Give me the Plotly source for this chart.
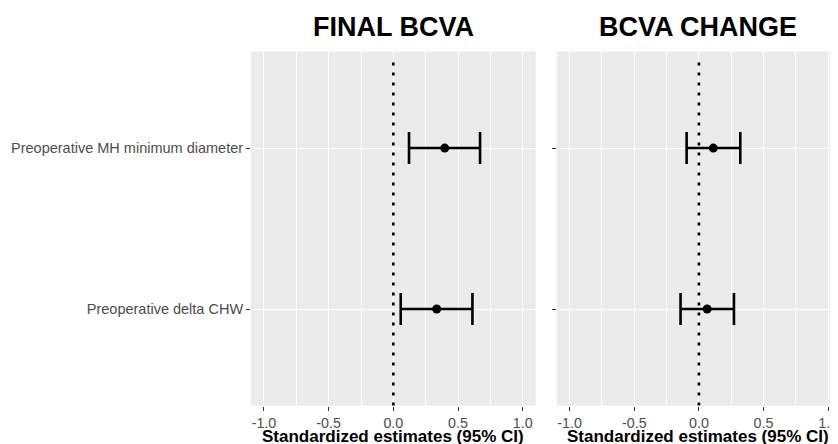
import plotly.graph_objects as go

# ---------------- data ----------------
predictors = ["Preoperative delta CHW", "Preoperative MH minimum diameter"]

final_est = [0.335, 0.397]
final_lo = [0.057, 0.121]
final_hi = [0.611, 0.670]

change_est = [0.064, 0.111]
change_lo = [-0.142, -0.095]
change_hi = [0.271, 0.320]

panel_titles = ["FINAL BCVA", "BCVA CHANGE"]
x_title = "Standardized estimates (95% CI)"
x_tickvals = [-1.0, -0.5, 0.0, 0.5, 1.0]
x_ticktext = ["-1.0", "-0.5", "0.0", "0.5", "1.0"]

# ---------------- figure ----------------
# the page body has an 8px default margin, so the figure is drawn 8px in
OFF = 8
W, H = 838 - OFF, 444 - OFF
fig = go.Figure()


def add_panel(est, lo, hi, xa, ya):
    plus = [h - e for h, e in zip(hi, est)]
    minus = [e - l for e, l in zip(est, lo)]
    fig.add_trace(go.Scatter(
        x=est, y=predictors, mode="markers",
        marker=dict(color="black", size=9),
        error_x=dict(type="data", symmetric=False, array=plus, arrayminus=minus,
                     color="black", thickness=2.6, width=16),
        xaxis=xa, yaxis=ya, showlegend=False, hoverinfo="skip",
    ))


add_panel(final_est, final_lo, final_hi, "x", "y")
add_panel(change_est, change_lo, change_hi, "x2", "y2")

# panel geometry (pixels, figure coordinates)
L1, R1 = 251.0 - OFF, 535.7 - OFF
L2, R2 = 556.7 - OFF, 838.0 - OFF
TOP, BOT = 51.5 - OFF, 405.6 - OFF
ZERO2 = 699.0 - OFF
PX_PER_UNIT = 129.2

FONT = "Liberation Sans, Arial, Helvetica, sans-serif"

axis_common = dict(
    tickvals=x_tickvals, ticktext=x_ticktext,
    showgrid=True, gridcolor="white", gridwidth=1.2,
    minor=dict(tickvals=[-0.75, -0.25, 0.25, 0.75], showgrid=True,
               gridcolor="white", gridwidth=0.6),
    zeroline=False, showline=False,
    ticks="outside", ticklen=4, tickcolor="#333333", tickwidth=1,
    tickfont=dict(family=FONT, size=14.3, color="#4D4D4D"),
    ticklabeloverflow="allow",
    automargin=False, fixedrange=True,
)

yaxis_common = dict(
    domain=[1 - BOT / H, 1 - TOP / H], type="category",
    categoryorder="array", categoryarray=predictors, range=[-0.6, 1.6],
    showgrid=True, gridcolor="white", gridwidth=1.2, zeroline=False,
    ticks="outside", ticklen=4, tickcolor="#333333", tickwidth=1,
    tickfont=dict(family=FONT, size=14.5, color="#4D4D4D"),
    automargin=False, fixedrange=True,
)

fig.update_layout(
    xaxis=dict(domain=[L1 / W, R1 / W], range=[-1.1, 1.1], anchor="y", **axis_common),
    xaxis2=dict(domain=[L2 / W, R2 / W],
                range=[-1.1, (R2 - ZERO2) / PX_PER_UNIT], anchor="y2", **axis_common),
    yaxis=dict(anchor="x", **yaxis_common),
    yaxis2=dict(anchor="x2", showticklabels=False, **yaxis_common),
    plot_bgcolor="#EBEBEB",
    paper_bgcolor="white",
    width=W, height=H,
    margin=dict(l=0, r=0, t=0, b=0, autoexpand=False),
    font=dict(family=FONT),
)

# dotted reference line at zero
for xr, yr in (("x", "y domain"), ("x2", "y2 domain")):
    fig.add_shape(type="line", xref=xr, yref=yr, x0=0, x1=0, y0=0, y1=0.98,
                  line=dict(color="black", width=2.6, dash="3px,7px"), layer="above")

# panel titles and axis titles
centers = [(L1 + R1) / 2, (L2 + 840.0 - OFF) / 2]
for c, t in zip(centers, panel_titles):
    fig.add_annotation(text=f"<b>{t}</b>", xref="paper", yref="paper",
                       x=c / W, y=1 - 19 / H, xanchor="center", yanchor="middle",
                       showarrow=False,
                       font=dict(size=27, color="black", family=FONT))
    fig.add_annotation(text=f"<b>{x_title}</b>", xref="paper", yref="paper",
                       x=c / W, y=1 - 428 / H, xanchor="center", yanchor="middle",
                       showarrow=False,
                       font=dict(size=17, color="black", family=FONT))

fig.write_html("out.html", config={"displayModeBar": False})
